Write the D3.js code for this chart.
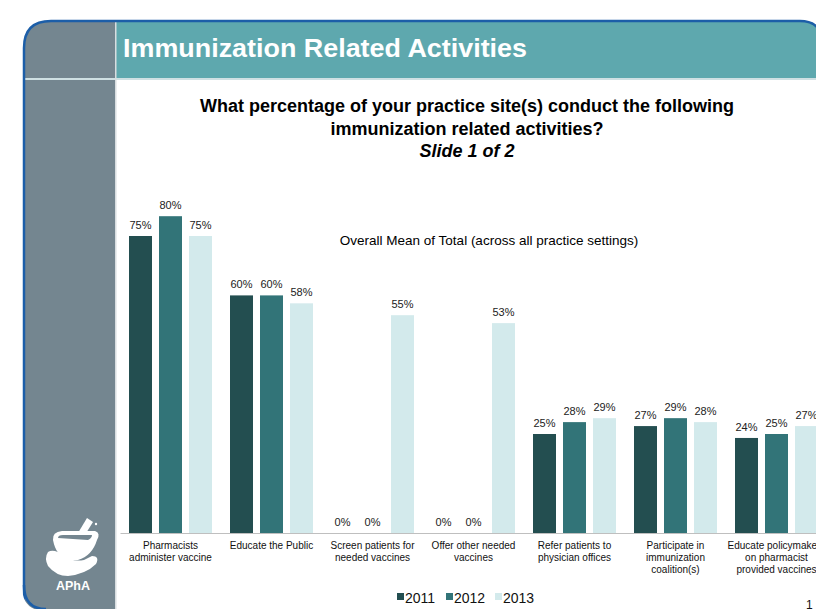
<!DOCTYPE html>
<html>
<head>
<meta charset="utf-8">
<script src="https://cdn.jsdelivr.net/npm/d3@7/dist/d3.min.js"></script>
<style>
html,body{margin:0;padding:0;background:#fff;overflow:hidden;}
svg{display:block;font-family:"Liberation Sans",Arial,sans-serif;}
</style>
</head>
<body>
<svg id="chart" width="816" height="609"></svg>
<script>
const categories = [
  ["Pharmacists", "administer vaccine"],
  ["Educate the Public"],
  ["Screen patients for", "needed vaccines"],
  ["Offer other needed", "vaccines"],
  ["Refer patients to", "physician offices"],
  ["Participate in", "immunization", "coalition(s)"],
  ["Educate policymakers", "on pharmacist", "provided vaccines"]
];
const years = ["2011", "2012", "2013"];
const values2011 = [75, 60, 0, 0, 25, 27, 24];
const values2012 = [80, 60, 0, 0, 28, 29, 25];
const values2013 = [75, 58, 55, 53, 29, 28, 27];
const colors = ["#234e50", "#327478", "#d3eaec"];

const series = [values2011, values2012, values2013];
const data = categories.map((c, i) => ({
  idx: i,
  lines: c,
  vals: years.map((y, j) => ({year: y, j: j, v: series[j][i]}))
}));

const svg = d3.select("#chart");

// ---- frame ----
const blue = "#1c5ea8";
svg.append("path")
  .attr("d", "M24,609 L24,48 Q24,21 51,21 L115,21 L115,609 Z")
  .attr("fill", "#748690");
svg.append("path")
  .attr("d", "M115,21 L800,21 Q812,21 818,28 L818,78 L115,78 Z")
  .attr("fill", "#5ea8ae");
svg.append("rect").attr("x", 24).attr("y", 78).attr("width", 794).attr("height", 2).attr("fill", "#cfe0e3");
svg.append("rect").attr("x", 115).attr("y", 21).attr("width", 1.5).attr("height", 588).attr("fill", "#d8dde0");
svg.append("path")
  .attr("d", "M24,609 L24,48 Q24,21 51,21 L800,21 Q812,21 818,28")
  .attr("fill", "none").attr("stroke", blue).attr("stroke-width", 2.5);
svg.append("path")
  .attr("d", "M24,585 Q24,609 46,609")
  .attr("fill", "none").attr("stroke", blue).attr("stroke-width", 2.5);
svg.append("path")
  .attr("d", "M22,586 Q22,611 46,611 L22,611 Z").attr("fill", "#fff");

svg.append("text")
  .attr("x", 123).attr("y", 57)
  .attr("fill", "#fff")
  .attr("font-family", "'Liberation Sans Narrow','Arial Narrow','Liberation Sans',Arial,sans-serif")
  .attr("font-weight", "bold")
  .attr("font-size", 26)
  .attr("textLength", 404).attr("lengthAdjust", "spacingAndGlyphs")
  .text("Immunization Related Activities");

// logo
const logo = svg.append("g").attr("fill", "#fff").attr("stroke", "none");
logo.append("path").attr("d", "M87,518 L93,522 L78,546 L72,543 Z");
logo.append("path").attr("d", "M53,540 Q52,532 62,531 L95,531 Q101,533 97,540 Q92,556 78,560 L68,560 Q56,556 53,540 Z");
logo.append("path").attr("d", "M58,538 Q58,535 63,535 L92,535 Q92,538 88,540 Z").attr("fill", "#748690");
logo.append("path").attr("d", "M48,552 Q54,548 64,556 Q72,562 84,560 L92,556 Q100,556 96,564 Q86,574 68,576 Q56,576 48,566 Q44,558 48,552 Z");
logo.append("circle").attr("cx", 96).attr("cy", 524).attr("r", 1.2);
logo.append("text")
  .attr("x", 73).attr("y", 590).attr("text-anchor", "middle")
  .attr("font-size", 12.5).attr("font-weight", "bold")
  .text("APhA");

// ---- chart ----
const x0 = d3.scaleBand().domain(d3.range(categories.length)).range([120, 827]).padding(0);
const x1 = d3.scaleBand().domain(years).range([9, 92]).paddingInner(7 / 30).paddingOuter(0);
const y = d3.scaleLinear().domain([0, 100]).range([533, 137]);
const color = d3.scaleOrdinal().domain(years).range(colors);

const title = svg.append("g").attr("text-anchor", "middle").attr("fill", "#000");
title.append("text").attr("x", 467).attr("y", 112).attr("font-size", 18).attr("font-weight", "bold")
  .text("What percentage of your practice site(s) conduct the following");
title.append("text").attr("x", 467).attr("y", 135).attr("font-size", 18).attr("font-weight", "bold")
  .text("immunization related activities?");
title.append("text").attr("x", 467).attr("y", 157).attr("font-size", 18).attr("font-weight", "bold")
  .attr("font-style", "italic").text("Slide 1 of 2");

svg.append("text").attr("x", 489).attr("y", 245).attr("text-anchor", "middle")
  .attr("font-size", 13.5).attr("fill", "#000")
  .text("Overall Mean of Total (across all practice settings)");

// bars
const groups = svg.append("g").selectAll("g").data(data).join("g")
  .attr("transform", d => `translate(${x0(d.idx)},0)`);

groups.selectAll("rect").data(d => d.vals).join("rect")
  .attr("x", d => x1(d.year))
  .attr("y", d => y(d.v))
  .attr("width", x1.bandwidth())
  .attr("height", d => y(0) - y(d.v))
  .attr("fill", d => color(d.year));

groups.selectAll("text.val").data(d => d.vals).join("text")
  .attr("class", "val")
  .attr("x", d => x1(d.year) + x1.bandwidth() / 2)
  .attr("y", d => y(d.v) - 7)
  .attr("text-anchor", "middle")
  .attr("font-size", 11)
  .attr("fill", "#222")
  .text(d => d.v + "%");

const xAxis = d3.axisBottom(x0).tickSize(0).tickFormat("");
const ax = svg.append("g").attr("transform", `translate(0,${y(0)})`).call(xAxis);
ax.select(".domain").attr("stroke", "#bfbfbf").attr("stroke-width", 1);

groups.append("text")
  .attr("text-anchor", "middle")
  .attr("font-size", 10)
  .attr("fill", "#111")
  .selectAll("tspan").data(d => d.lines).join("tspan")
  .attr("x", x0.bandwidth() / 2)
  .attr("y", (d, i) => 549 + i * 12)
  .text(d => d);

// legend
const legendX = [397, 446, 495];
const legend = svg.append("g").selectAll("g").data(years).join("g")
  .attr("transform", (d, i) => `translate(${legendX[i]},0)`);
legend.append("rect").attr("x", 0).attr("y", 593).attr("width", 7).attr("height", 7)
  .attr("fill", d => color(d));
legend.append("text").attr("x", 8).attr("y", 603).attr("font-size", 14).attr("fill", "#111").text(d => d);

svg.append("text").attr("x", 806).attr("y", 609).attr("font-size", 12).attr("fill", "#111").text("1");
</script>
</body>
</html>
